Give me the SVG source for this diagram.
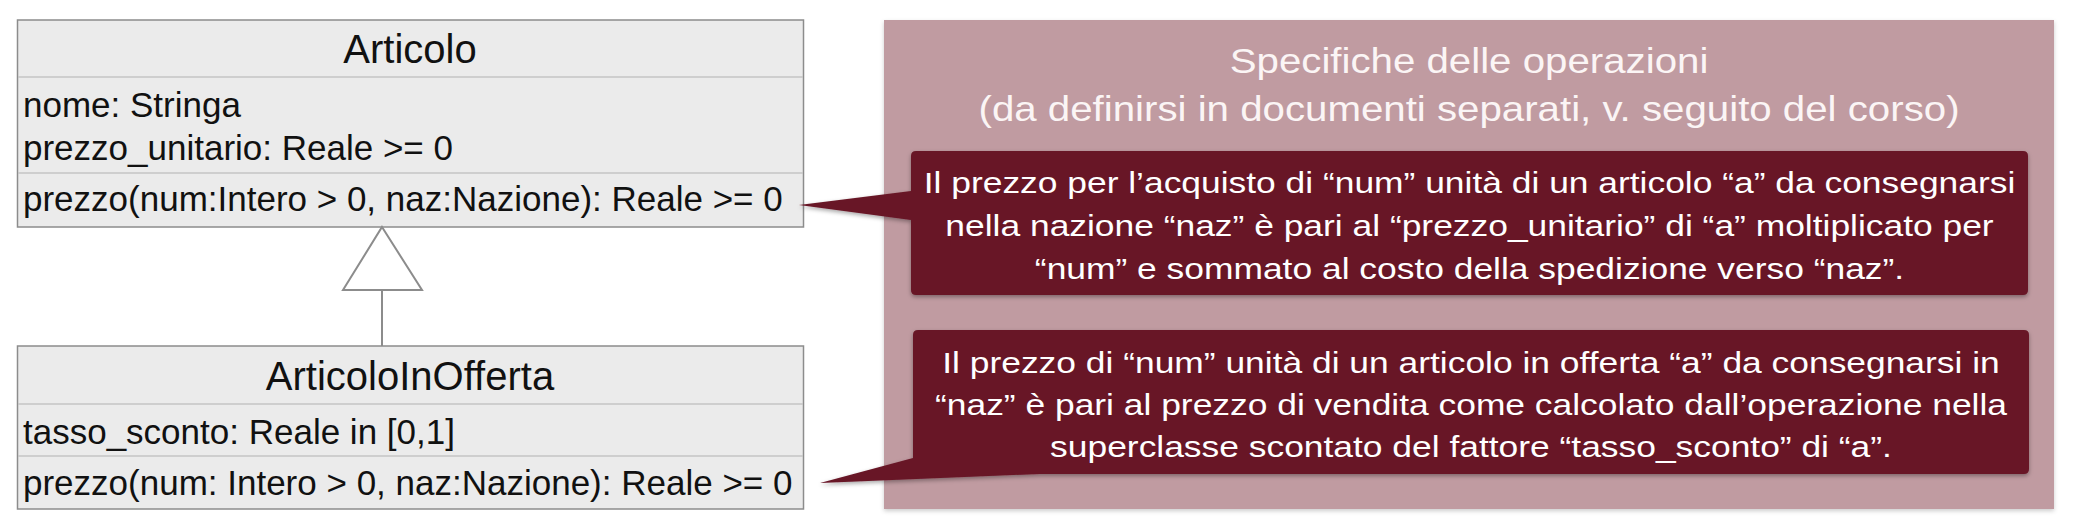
<svg xmlns="http://www.w3.org/2000/svg" width="2074" height="526" viewBox="0 0 2074 526">
  <defs>
    <filter id="shadow" x="-5%" y="-10%" width="110%" height="130%">
      <feDropShadow dx="0" dy="2" stdDeviation="2" flood-color="#000" flood-opacity="0.35"/>
    </filter>
    <filter id="pshadow" x="-5%" y="-5%" width="110%" height="110%">
      <feDropShadow dx="0" dy="2" stdDeviation="2" flood-color="#000" flood-opacity="0.2"/>
    </filter>
    <style>
      .cls { fill: #ebebeb; stroke: #8c8c8c; stroke-width: 1.5; }
      .div { stroke: #c4c4c4; stroke-width: 1.5; }
      .hdr { font-family: "Liberation Sans", Arial, sans-serif; font-size: 40px; fill: #111; text-anchor: middle; }
      .att { font-family: "Liberation Sans", Arial, sans-serif; font-size: 35px; fill: #111; }
      .gen { stroke: #8c8c8c; stroke-width: 2; fill: #fff; }
      .panel { fill: #c09ba1; }
      .ttl { font-family: "Liberation Sans", Arial, sans-serif; font-size: 35px; fill: #fbf5f5; text-anchor: middle; }
      .call { fill: #671526; }
      .ctx { font-family: "Liberation Sans", Arial, sans-serif; font-size: 30px; fill: #ffffff; text-anchor: middle; }
    </style>
  </defs>

  <g id="articolo">
    <rect class="cls" x="17.5" y="20" width="786" height="207"/>
    <line class="div" x1="18" y1="77" x2="803" y2="77"/>
    <line class="div" x1="18" y1="173" x2="803" y2="173"/>
    <text class="hdr" x="410" y="63">Articolo</text>
    <text class="att" x="23" y="117">nome: Stringa</text>
    <text class="att" x="23" y="160">prezzo_unitario: Reale &gt;= 0</text>
    <text class="att" x="23" y="211">prezzo(num:Intero &gt; 0, naz:Nazione): Reale &gt;= 0</text>
  </g>

  <g id="articoloInOfferta">
    <rect class="cls" x="17.5" y="346" width="786" height="163"/>
    <line class="div" x1="18" y1="404" x2="803" y2="404"/>
    <line class="div" x1="18" y1="456" x2="803" y2="456"/>
    <text class="hdr" x="410" y="390">ArticoloInOfferta</text>
    <text class="att" x="23" y="444">tasso_sconto: Reale in [0,1]</text>
    <text class="att" x="23" y="495">prezzo(num: Intero &gt; 0, naz:Nazione): Reale &gt;= 0</text>
  </g>

  <g id="connectors">
    <line class="gen" x1="382" y1="290" x2="382" y2="346"/>
    <polygon class="gen" points="382,227 422,290 343,290"/>
  </g>

  <g id="specifiche">
    <rect class="panel" x="884" y="20" width="1170" height="489" filter="url(#pshadow)"/>
    <text class="ttl" transform="translate(1469,73) scale(1.15,1)">Specifiche delle operazioni</text>
    <text class="ttl" transform="translate(1469,121) scale(1.15,1)">(da definirsi in documenti separati, v. seguito del corso)</text>
  </g>

  <g id="callout1">
    <path class="call" filter="url(#shadow)" d="M916,151 H2023 Q2028,151 2028,156 V290 Q2028,295 2023,295 H916 Q911,295 911,290 V220 L799,205 L911,191 V156 Q911,151 916,151 Z"/>
    <text class="ctx" transform="translate(1469.5,193) scale(1.18,1)">Il prezzo per l’acquisto di “num” unità di un articolo “a” da consegnarsi</text>
    <text class="ctx" transform="translate(1469.5,236) scale(1.18,1)">nella nazione “naz” è pari al “prezzo_unitario” di “a” moltiplicato per</text>
    <text class="ctx" transform="translate(1469.5,279) scale(1.18,1)">“num” e sommato al costo della spedizione verso “naz”.</text>
  </g>

  <g id="callout2">
    <path class="call" filter="url(#shadow)" d="M918,330 H2024 Q2029,330 2029,335 V469 Q2029,474 2024,474 H1040 L820,483 L913,458 V335 Q913,330 918,330 Z"/>
    <text class="ctx" transform="translate(1471,373) scale(1.18,1)">Il prezzo di “num” unità di un articolo in offerta “a” da consegnarsi in</text>
    <text class="ctx" transform="translate(1471,415) scale(1.18,1)">“naz” è pari al prezzo di vendita come calcolato dall’operazione nella</text>
    <text class="ctx" transform="translate(1471,457) scale(1.18,1)">superclasse scontato del fattore “tasso_sconto” di “a”.</text>
  </g>
</svg>
